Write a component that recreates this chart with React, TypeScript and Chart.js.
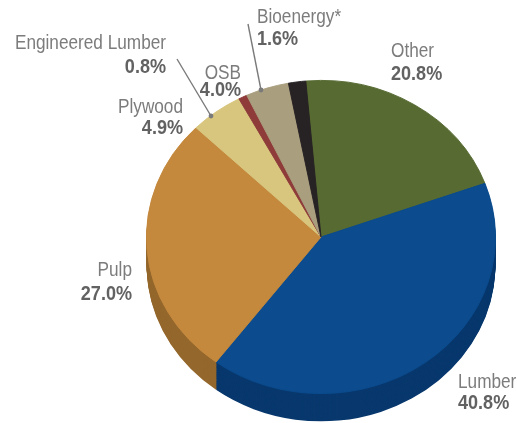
import React, { useEffect, useRef } from 'react';
import { Chart, registerables } from 'chart.js';

Chart.register(...registerables);

const categories = ['Other', 'Lumber', 'Pulp', 'Plywood', 'Engineered Lumber', 'OSB', 'Bioenergy*'];
const shares = [20.8, 40.8, 27.0, 4.9, 0.8, 4.0, 1.6];
const percentLabels = ['20.8%', '40.8%', '27.0%', '4.9%', '0.8%', '4.0%', '1.6%'];
const topColors = ['#566a32', '#0b4b8e', '#c4893d', '#d8c67f', '#8e3b3a', '#a99e7e', '#272224'];
const sideColors = ['#3d4b23', '#08386d', '#94672c', '#a8995e', '#6a2b2a', '#807759', '#151213'];

// layout (positions only)
const CX = 321;
const CY = 237;
const RX = 175;
const RY = 157;
const DEPTH = 28;
const W = 517;
const H = 423;

const labelLayout = [
  { x: 391, nameY: 57, pctY: 80, align: 'left' },
  { x: 458, nameY: 388, pctY: 409, align: 'left' },
  { x: 132, nameY: 276, pctY: 300, align: 'right' },
  { x: 183, nameY: 113, pctY: 134, align: 'right' },
  { x: 166, nameY: 49, pctY: 73, align: 'right' },
  { x: 241, nameY: 79, pctY: 96, align: 'right' },
  { x: 257, nameY: 23, pctY: 45, align: 'left' },
];

const leaders = [
  [177, 59, 211, 116],
  [248, 24, 261, 90],
];

function drawText(ctx: CanvasRenderingContext2D, text: string, x: number, y: number, align: string, font: string, color: string, sx: number) {
  ctx.save();
  ctx.translate(x, y);
  ctx.scale(sx, 1);
  ctx.font = font;
  ctx.fillStyle = color;
  ctx.textAlign = align as CanvasTextAlign;
  ctx.textBaseline = 'alphabetic';
  ctx.fillText(text, 0, 0);
  ctx.restore();
}

export default function App() {
  const ref = useRef<HTMLCanvasElement>(null);

  useEffect(() => {
    const canvas = ref.current;
    if (!canvas) return;
    const squash = RY / RX;

    const pie3d = {
      id: 'pie3d',
      beforeDatasetsDraw(chart: any) {
        const ctx = chart.ctx as CanvasRenderingContext2D;
        const meta = chart.getDatasetMeta(0);
        const cy = meta.data[0].y;
        ctx.save();
        ctx.translate(0, cy);
        ctx.scale(1, squash);
        ctx.translate(0, -cy);
        const units = Math.round(DEPTH / squash);
        for (let d = units; d >= 1; d--) {
          meta.data.forEach((arc: any, i: number) => {
            const p = arc.getProps(['x', 'y', 'startAngle', 'endAngle', 'outerRadius']);
            ctx.beginPath();
            ctx.moveTo(p.x, p.y + d);
            ctx.arc(p.x, p.y + d, p.outerRadius, p.startAngle, p.endAngle);
            ctx.closePath();
            ctx.fillStyle = sideColors[i];
            ctx.fill();
          });
        }
      },
      afterDatasetsDraw(chart: any) {
        chart.ctx.restore();
      },
      afterDraw(chart: any) {
        const ctx = chart.ctx as CanvasRenderingContext2D;
        ctx.save();
        ctx.strokeStyle = '#7a7a7a';
        ctx.fillStyle = '#7a7a7a';
        ctx.lineWidth = 1.4;
        leaders.forEach(([x1, y1, x2, y2]) => {
          ctx.beginPath();
          ctx.moveTo(x1, y1);
          ctx.lineTo(x2, y2);
          ctx.stroke();
          ctx.beginPath();
          ctx.arc(x2, y2, 2.4, 0, Math.PI * 2);
          ctx.fill();
        });
        ctx.restore();
        categories.forEach((name, i) => {
          const l = labelLayout[i];
          drawText(ctx, name, l.x, l.nameY, l.align, "20px 'Liberation Sans', Arial, sans-serif", '#7c7c7c', 0.86);
          drawText(ctx, percentLabels[i], l.x, l.pctY, l.align, "bold 21px 'Liberation Sans', Arial, sans-serif", '#626262', 0.86);
        });
      },
    };

    const chart = new Chart(canvas, {
      type: 'pie',
      data: {
        labels: categories,
        datasets: [
          {
            data: shares,
            backgroundColor: topColors,
            borderColor: topColors,
            borderWidth: 1,
            clip: false as any,
          },
        ],
      },
      options: {
        responsive: false,
        animation: false,
        rotation: -5,
        layout: {
          padding: {
            left: CX - RX,
            right: W - (CX + RX),
            top: CY - RX,
            bottom: H - (CY + RX),
          },
        },
        plugins: {
          legend: { display: false },
          tooltip: { enabled: false },
        },
      },
      plugins: [pie3d],
    });

    return () => {
      chart.destroy();
    };
  }, []);

  return (
    <div style={{ position: 'absolute', left: 0, top: 0, width: W, height: H, background: '#ffffff' }}>
      <canvas ref={ref} width={W} height={H} style={{ display: 'block' }} />
    </div>
  );
}
